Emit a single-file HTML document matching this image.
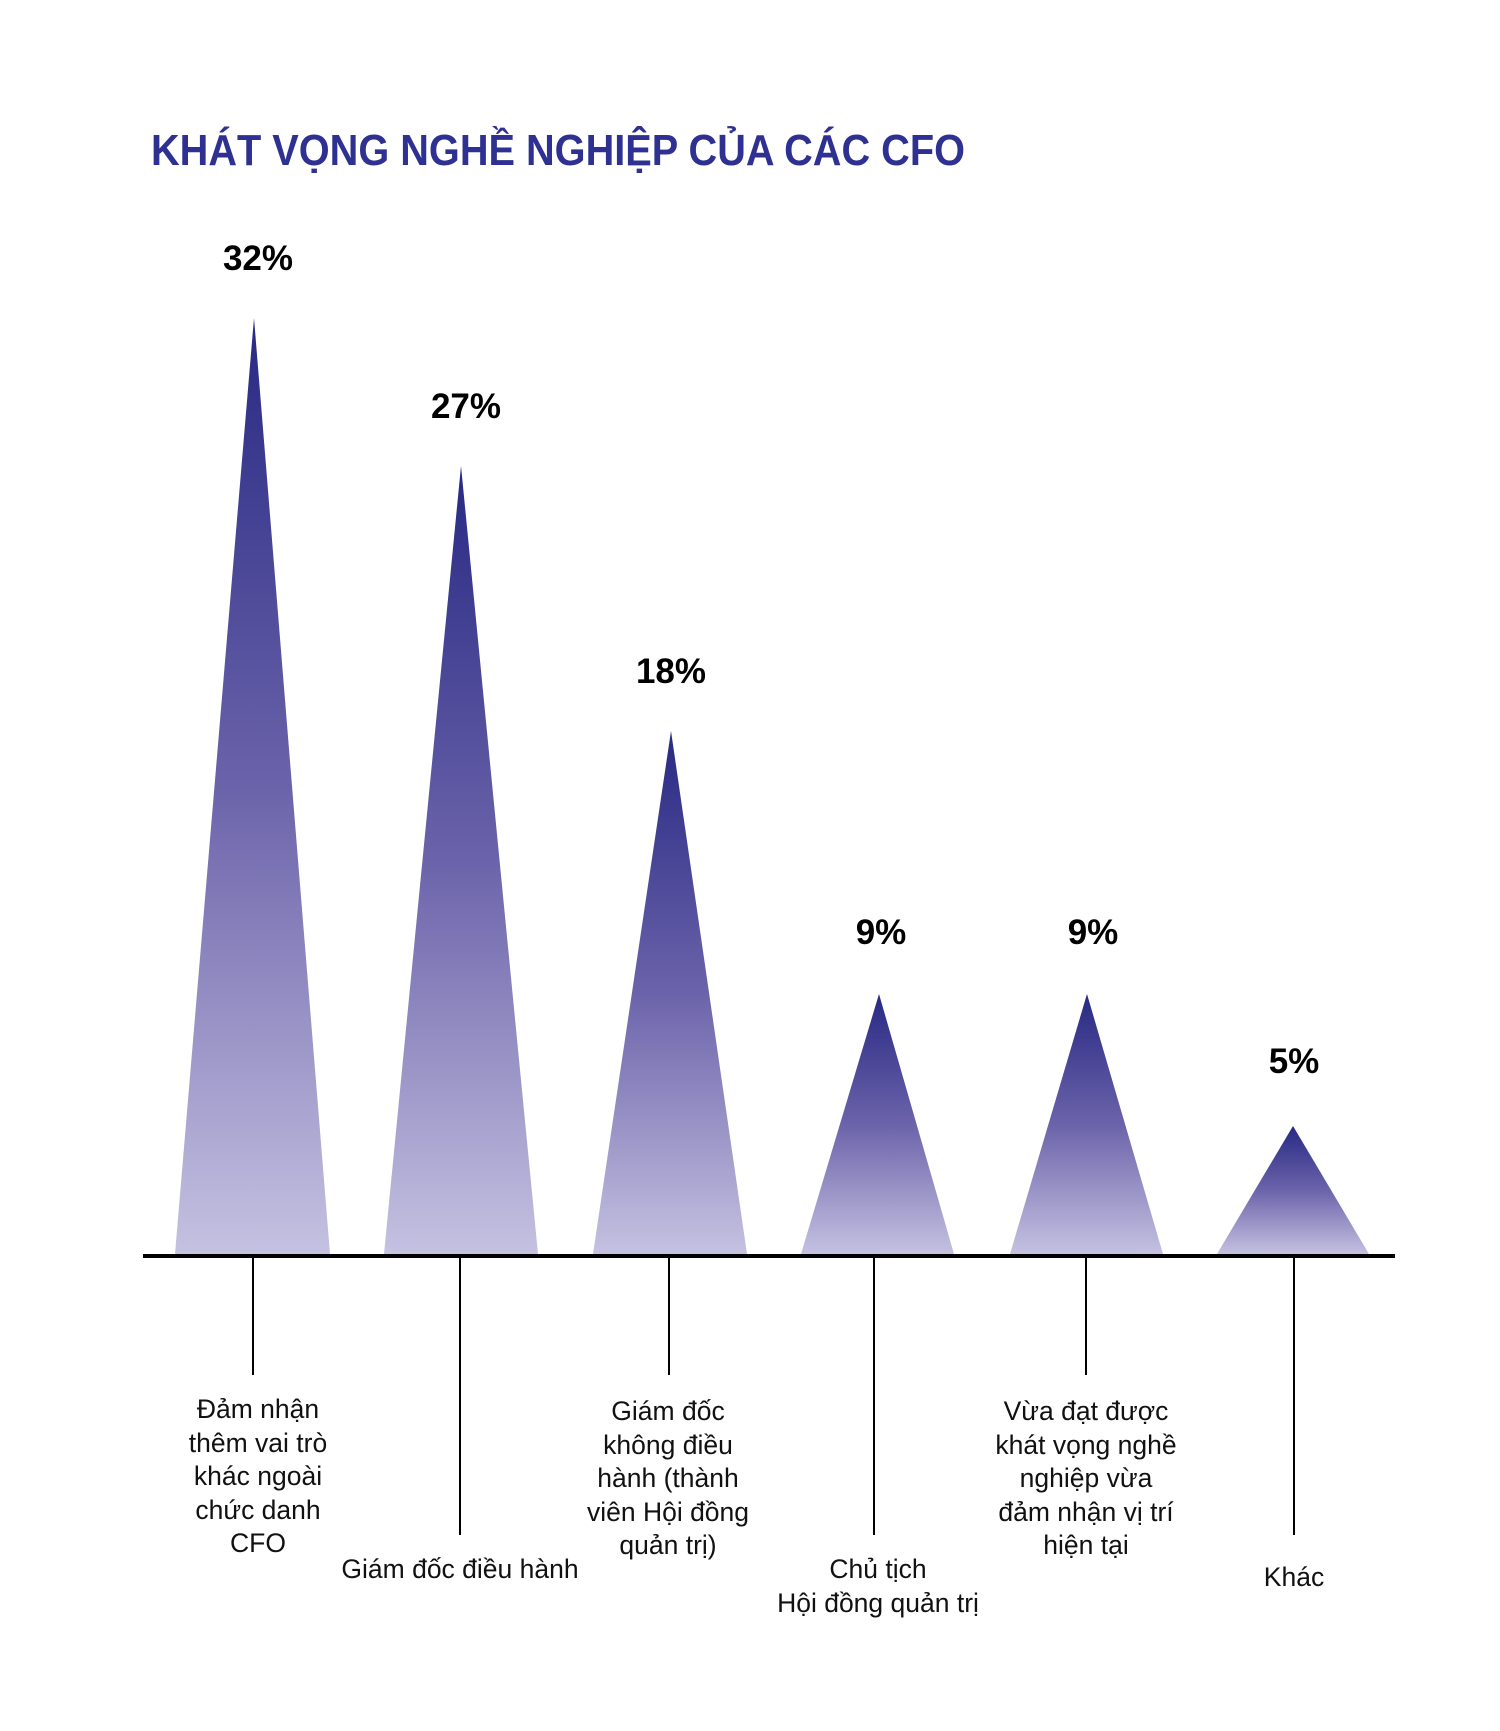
<!DOCTYPE html>
<html><head><meta charset="utf-8"><style>
html,body{margin:0;padding:0;background:#fff;}
svg{display:block;}
</style></head><body>
<svg width="1500" height="1731" viewBox="0 0 1500 1731" xmlns="http://www.w3.org/2000/svg">
<defs>
<linearGradient id="g" x1="0" y1="0" x2="0" y2="1">
<stop offset="0" stop-color="#272983"/>
<stop offset="0.5" stop-color="#6b63aa"/>
<stop offset="1" stop-color="#c5c1e1"/>
</linearGradient>
</defs>
<g transform="translate(-2,-3)">
<text x="153" y="168" font-family="Liberation Sans, sans-serif" font-weight="bold" font-size="44" fill="#2e3192" textLength="814" lengthAdjust="spacingAndGlyphs">KHÁT VỌNG NGHỀ NGHIỆP CỦA CÁC CFO</text>

<polygon points="256,321 177,1257 332,1257" fill="url(#g)"/>
<polygon points="463,469 386,1257 540,1257" fill="url(#g)"/>
<polygon points="673,734 595,1257 749,1257" fill="url(#g)"/>
<polygon points="881,997 803,1257 956,1257" fill="url(#g)"/>
<polygon points="1089,997 1012,1257 1165,1257" fill="url(#g)"/>
<polygon points="1295,1129 1219,1257 1371,1257" fill="url(#g)"/>

<g font-family="Liberation Sans, sans-serif" font-weight="bold" font-size="35" fill="#000" text-anchor="middle">
<text x="260" y="273">32%</text>
<text x="468" y="421">27%</text>
<text x="673" y="686">18%</text>
<text x="883" y="947">9%</text>
<text x="1095" y="947">9%</text>
<text x="1296" y="1076">5%</text>
</g>

<rect x="145" y="1257" width="1252" height="4" fill="#000"/>
<g stroke="#000" stroke-width="2">
<line x1="255" y1="1260" x2="255" y2="1378"/>
<line x1="462" y1="1260" x2="462" y2="1538"/>
<line x1="671" y1="1260" x2="671" y2="1378"/>
<line x1="876" y1="1260" x2="876" y2="1538"/>
<line x1="1088" y1="1260" x2="1088" y2="1378"/>
<line x1="1296" y1="1260" x2="1296" y2="1538"/>
</g>

<g font-family="Liberation Sans, sans-serif" font-size="26.5" fill="#111" text-anchor="middle">
<text x="260" y="1421">Đảm nhận</text>
<text x="260" y="1455">thêm vai trò</text>
<text x="260" y="1488">khác ngoài</text>
<text x="260" y="1522">chức danh</text>
<text x="260" y="1555">CFO</text>
<text x="462" y="1581">Giám đốc điều hành</text>
<text x="670" y="1423">Giám đốc</text>
<text x="670" y="1457">không điều</text>
<text x="670" y="1490">hành (thành</text>
<text x="670" y="1524">viên Hội đồng</text>
<text x="670" y="1557">quản trị)</text>
<text x="880" y="1581">Chủ tịch</text>
<text x="880" y="1615">Hội đồng quản trị</text>
<text x="1088" y="1423">Vừa đạt được</text>
<text x="1088" y="1457">khát vọng nghề</text>
<text x="1088" y="1490">nghiệp vừa</text>
<text x="1088" y="1524">đảm nhận vị trí</text>
<text x="1088" y="1557">hiện tại</text>
<text x="1296" y="1589">Khác</text>
</g>
</g>
</svg>
</body></html>
